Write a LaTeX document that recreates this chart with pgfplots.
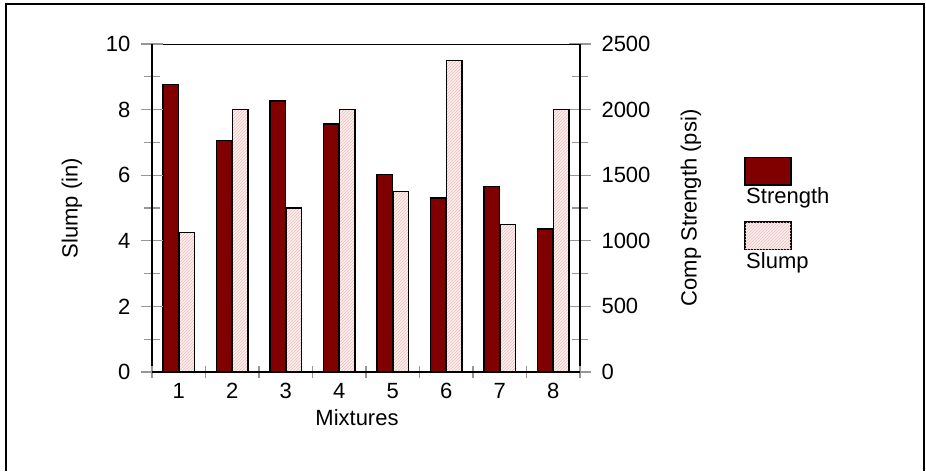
\documentclass[border=0pt]{standalone}
\usepackage{fontspec}
\setmainfont{Liberation Sans}
\usepackage{pgfplots}
\pgfplotsset{compat=1.18}
\usetikzlibrary{patterns}

\definecolor{strengthred}{RGB}{128,0,0}
\definecolor{slumpfill}{RGB}{252,240,240}
\definecolor{slumphatch}{RGB}{236,190,190}
\definecolor{tickgray}{RGB}{150,150,150}

\pgfplotsset{
  frame/.style={
    at={(152pt,-372pt)}, anchor=south west,
    width=428pt, height=328pt, scale only axis,
    xmin=0.5, xmax=8.5,
    tick align=center,
    /pgf/number format/assume math mode=true,
    /pgf/number format/1000 sep={},
    tick style={color=tickgray, line width=1.3pt},
  },
}

\begin{document}
\fontsize{22}{26}\selectfont
\begin{tikzpicture}[x=1pt,y=1pt]
\path (0,0) rectangle (926,-471);
\draw[line width=2pt] (6,-471) -- (6,-4) -- (924,-4) -- (924,-471);

% right axis: compressive strength
\begin{axis}[frame,
  ymin=0, ymax=2500,
  axis x line*=top, xtick=\empty,
  axis y line*=right,
  x axis line style={line width=1pt, -},
  y axis line style={line width=2pt, -},
  ytick={0,500,...,2500},
  minor ytick={250,750,...,2250},
  major tick length=22pt, minor tick length=16pt,
  yticklabel style={xshift=3pt},
  ylabel={Comp Strength (psi)},
  every axis y label/.style={at={(axis description cs:1,0.5)}, xshift=111pt, rotate=90, anchor=center},
]
\addplot[ybar, bar width=15.5pt, bar shift=-8pt, fill=strengthred, draw=black, line width=1.5pt]
  coordinates {(1,2190) (2,1765) (3,2065) (4,1890) (5,1505) (6,1325) (7,1415) (8,1090)};
\end{axis}

% left axis: slump
\begin{axis}[frame,
  ymin=0, ymax=10,
  axis x line=none,
  axis y line*=left,
  y axis line style={line width=2pt, -},
  ytick={0,2,...,10},
  minor ytick={1,3,...,9},
  major tick length=22pt, minor tick length=16pt,
  yticklabel style={xshift=-3pt},
  ylabel={Slump (in)},
  every axis y label/.style={at={(axis description cs:0,0.5)}, xshift=-80pt, rotate=90, anchor=center},
]
\addplot[ybar, bar width=15.5pt, bar shift=8pt, fill=slumpfill, draw=black, line width=1.5pt,
  postaction={pattern=north east lines, pattern color=slumphatch}]
  coordinates {(1,4.25) (2,8) (3,5) (4,8) (5,5.5) (6,9.5) (7,4.5) (8,8)};
\end{axis}

% mixtures axis
\begin{axis}[frame,
  ymin=0, ymax=10,
  axis y line=none,
  axis x line*=bottom,
  x axis line style={line width=1.3pt, -},
  xtick={1,...,8},
  minor xtick={0.5,1.5,...,8.5},
  major tick length=0pt, minor tick length=12pt,
  xticklabel style={yshift=-4pt},
  xlabel={Mixtures},
  every axis x label/.style={at={(axis description cs:0.5,0)}, xshift=-9pt, yshift=-46pt, anchor=center},
]
\end{axis}

% legend
\draw[fill=strengthred, line width=1.5pt] (745,-157.5) rectangle (791,-185);
\node[anchor=base west, inner sep=0pt] at (746,-203) {Strength};
\draw[fill=slumpfill, line width=1.5pt, postaction={pattern=north east lines, pattern color=slumphatch}] (745,-222) rectangle (791,-249.5);
\node[anchor=base west, inner sep=0pt] at (746,-268) {Slump};
\end{tikzpicture}
\end{document}
